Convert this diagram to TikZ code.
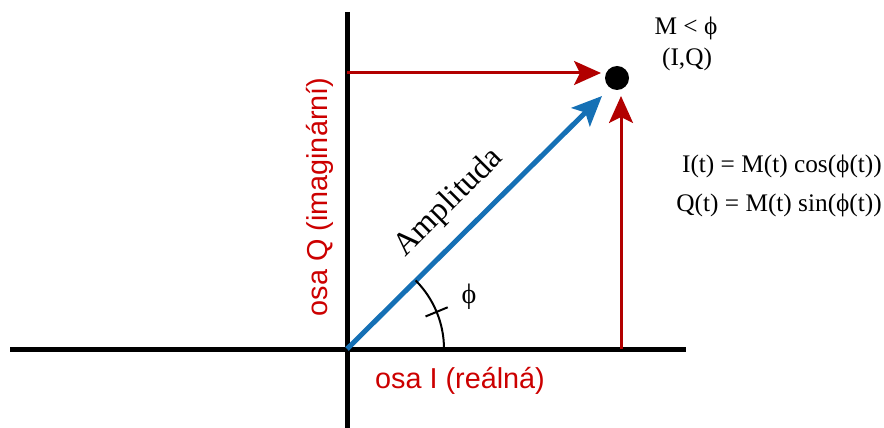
\documentclass[tikz,border=0pt]{standalone}
\usepackage{fontspec}
\setmainfont{Liberation Serif}
\setsansfont{Liberation Sans}
\usetikzlibrary{arrows.meta, positioning, calc}
\definecolor{axred}{HTML}{B20000}
\definecolor{lblred}{HTML}{CC0000}
\definecolor{ampblue}{HTML}{1570B5}

\begin{document}
\begin{tikzpicture}[
  x=0.02cm, y=-0.02cm,
  axis/.style={line width=0.1cm, black},
  comp/.style={-{Stealth[length=0.54cm, width=0.48cm, inset=0.12cm]}, line width=0.06cm, axred},
  amp/.style={-{Stealth[length=0.6cm, width=0.52cm, inset=0.13cm]}, line width=0.1cm, ampblue},
  axlbl/.style={text=lblred, font=\sffamily\fontsize{16.4}{19}\selectfont},
  eq/.style={font=\fontsize{14.4}{17}\selectfont},
]
\useasboundingbox (0,0) rectangle (884,428);

% Axes
\coordinate (O) at (347,349);
\coordinate (xl) at (10,349);
\coordinate (xr) at (686,349);
\coordinate (yt) at (347,12);
\coordinate (yb) at (347,428);
\draw[axis] (xl) -- (xr);
\draw[axis] (yt) -- (yb);

% Point
\node[circle, fill=black, minimum size=0.48cm, inner sep=0pt] (pt) at (617,78) {};
\coordinate (qstart) at (347,73);
\coordinate (qend) at (601,73);
\coordinate (istart) at (621,349);
\coordinate (iend) at (621,96);
\coordinate (aend) at (602,96);

% Components and amplitude
\draw[comp] (qstart) -- (qend);
\draw[comp] (istart) -- (iend);
\draw[amp] (O) -- (aend);

% Angle
\draw[line width=0.04cm] ($(O)+(97,0)$) arc[start angle=0, end angle=-45, radius=97];
\draw[line width=0.04cm] ($(O)+({85*cos(22.5)},{-85*sin(22.5)})$) -- ($(O)+({109*cos(22.5)},{-109*sin(22.5)})$);
\node[eq, font=\fontsize{16}{19}\selectfont] (phi) at (469,297) {ϕ};

% Labels
\node[font=\fontsize{18.5}{22}\selectfont, rotate=45] (amplbl) at (449,203) {Amplituda};
\node[axlbl] (ilbl) at (460,381) {osa I (reálná)};
\node[axlbl, rotate=90] (qlbl) at (320,197) {osa Q (imaginární)};
\node[eq] (polar) at (686,28) {M < ϕ};
\node[eq] (cart) at (687,59) {(I,Q)};
\node[eq, anchor=east] (ieq) at (888,166) {I(t) = M(t) cos(ϕ(t))};
\node[eq, anchor=east] (qeq) at (888,205) {Q(t) = M(t) sin(ϕ(t))};
\end{tikzpicture}
\end{document}
